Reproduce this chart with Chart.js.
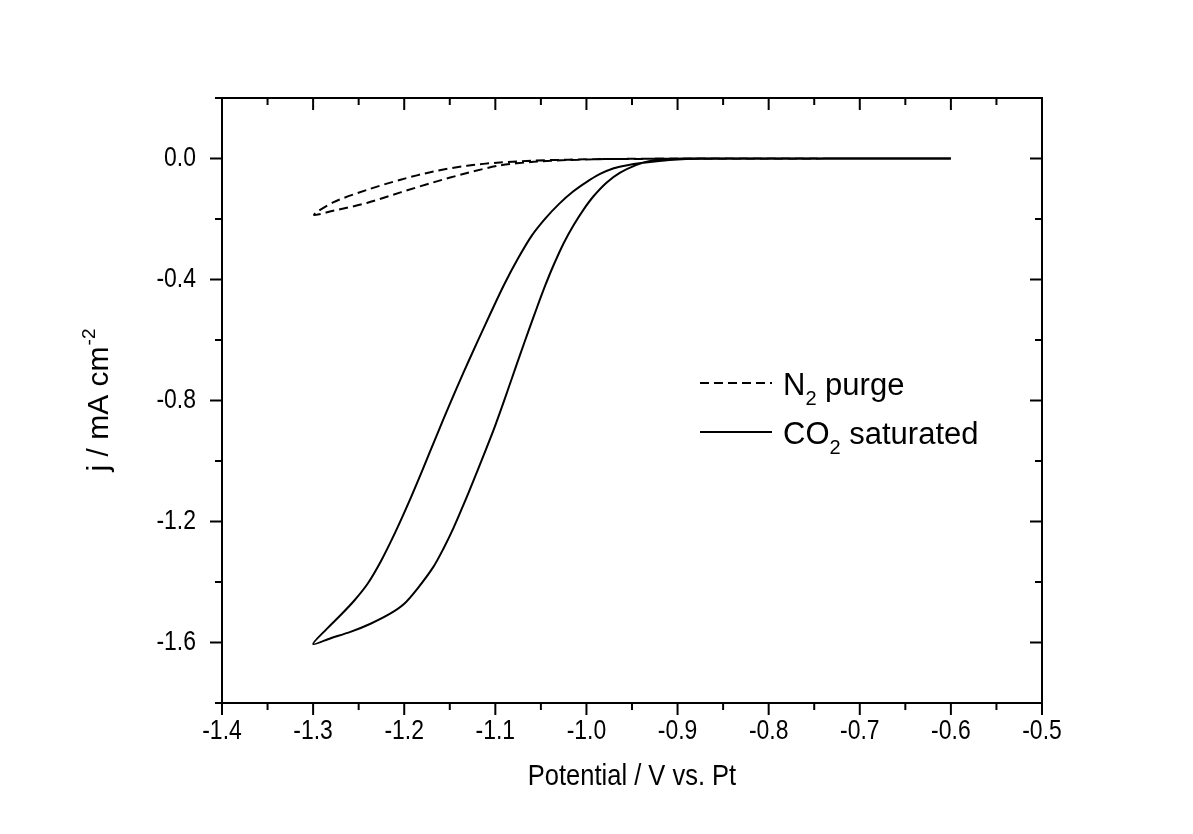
<!DOCTYPE html>
<html>
<head>
<meta charset="utf-8">
<script src="https://cdn.jsdelivr.net/npm/chart.js@4.4.1/dist/chart.umd.min.js"></script>
<style>
  html, body { margin: 0; padding: 0; background: #fff; }
  #wrap { width: 1193px; height: 834px; }
</style>
</head>
<body>
<div id="wrap"><canvas id="cv"></canvas></div>
<script>
// CO2 saturated CV: cathodic sweep from -0.6 V down to -1.3 V, then back
const co2Potential = [
  -0.600, -0.800, -0.880, -0.900, -0.920, -0.940, -0.955, -0.970, -0.985, -1.000,
  -1.015, -1.030, -1.045, -1.060, -1.075, -1.090, -1.105, -1.120, -1.135, -1.150,
  -1.165, -1.180, -1.195, -1.210, -1.225, -1.240, -1.255, -1.270, -1.285, -1.300,
  -1.280, -1.259, -1.237, -1.215, -1.200, -1.185, -1.168, -1.157, -1.146, -1.135,
  -1.124, -1.113, -1.102, -1.091, -1.082, -1.073, -1.063, -1.054, -1.045, -1.036,
  -1.025, -1.014, -1.003, -0.992, -0.978, -0.963, -0.945, -0.930, -0.910, -0.880,
  -0.600
];
const co2Current = [
  0.000, 0.000, -0.001, -0.003, -0.008, -0.015, -0.022, -0.032, -0.051, -0.078,
  -0.110, -0.150, -0.198, -0.255, -0.330, -0.415, -0.510, -0.608, -0.708, -0.812,
  -0.920, -1.030, -1.137, -1.237, -1.328, -1.405, -1.462, -1.510, -1.555, -1.605,
  -1.585, -1.565, -1.538, -1.504, -1.472, -1.420, -1.350, -1.290, -1.222, -1.145,
  -1.065, -0.982, -0.898, -0.806, -0.728, -0.650, -0.565, -0.490, -0.418, -0.352,
  -0.280, -0.220, -0.168, -0.124, -0.080, -0.047, -0.021, -0.008, -0.002, 0.000,
  0.000
];

// N2 purged CV
const n2Potential = [
  -0.600, -0.900, -0.985, -1.020, -1.058, -1.095, -1.131, -1.168, -1.204, -1.241, -1.278, -1.299,
  -1.278, -1.241, -1.204, -1.168, -1.131, -1.095, -1.058, -1.020, -0.980, -0.900, -0.600
];
const n2Current = [
  0.000, -0.001, -0.002, -0.004, -0.007, -0.013, -0.024, -0.043, -0.070, -0.104, -0.145, -0.186,
  -0.173, -0.147, -0.112, -0.079, -0.048, -0.023, -0.011, -0.005, -0.002, 0.000, 0.000
];

const xRange = [-1.4, -0.5];
const yRange = [-1.8, 0.2];
const xTicks = [-1.4, -1.3, -1.2, -1.1, -1.0, -0.9, -0.8, -0.7, -0.6, -0.5];
const xTickLabels = ['-1.4', '-1.3', '-1.2', '-1.1', '-1.0', '-0.9', '-0.8', '-0.7', '-0.6', '-0.5'];
const xMinorTicks = [-1.35, -1.25, -1.15, -1.05, -0.95, -0.85, -0.75, -0.65, -0.55];
const yTicks = [0.0, -0.4, -0.8, -1.2, -1.6];
const yTickLabels = ['0.0', '-0.4', '-0.8', '-1.2', '-1.6'];
const yMinorTicks = [0.2, -0.2, -0.6, -1.0, -1.4, -1.8];

const seriesNames = ['N2 purge', 'CO2 saturated'];
// label pieces: [main, subscript, rest]
const legendParts = [['N', '2', ' purge'], ['CO', '2', ' saturated']];
const xTitle = 'Potential / V vs. Pt';
const yTitleParts = ['j / mA cm', '-2'];

const sans = "'Liberation Sans', Arial, sans-serif";
const squeeze = 0.85; // the original's axis text is a condensed face

const toPoints = (xs, ys) => xs.map((v, i) => ({ x: v, y: ys[i] }));

const frame = {
    id: 'frame',
    afterDatasetsDraw(chart) {
        const { ctx, chartArea: a, scales: { x, y } } = chart;
        ctx.save();
        ctx.strokeStyle = '#000';
        ctx.fillStyle = '#000';
        ctx.lineWidth = 2;
        const seg = (x1, y1, x2, y2) => {
            ctx.beginPath();
            ctx.moveTo(x1, y1);
            ctx.lineTo(x2, y2);
            ctx.stroke();
        };
        const text = (t, px, py, size, align) => {
            ctx.save();
            ctx.translate(px, py);
            ctx.scale(squeeze, 1);
            ctx.font = size + 'px ' + sans;
            ctx.textAlign = align;
            ctx.textBaseline = 'middle';
            ctx.fillText(t, 0, 0);
            ctx.restore();
        };
        ctx.strokeRect(a.left, a.top, a.right - a.left, a.bottom - a.top);

        xTicks.forEach((v, i) => {
            const p = x.getPixelForValue(v);
            seg(p, a.bottom, p, a.bottom + 12);
            seg(p, a.top, p, a.top + 12);
            text(xTickLabels[i], p, a.bottom + 29, 27, 'center');
        });
        xMinorTicks.forEach(v => {
            const p = x.getPixelForValue(v);
            seg(p, a.bottom, p, a.bottom + 7);
            seg(p, a.top, p, a.top + 7);
        });
        yTicks.forEach((v, i) => {
            const p = y.getPixelForValue(v);
            seg(a.left - 12, p, a.left, p);
            seg(a.right - 12, p, a.right, p);
            text(yTickLabels[i], a.left - 26, p, 27, 'right');
        });
        yMinorTicks.forEach(v => {
            const p = y.getPixelForValue(v);
            seg(a.left - 7, p, a.left, p);
            seg(a.right - 7, p, a.right, p);
        });

        text(xTitle, (a.left + a.right) / 2, a.bottom + 74, 30, 'center');

        // y axis title with superscript, rotated
        ctx.translate(97, (a.top + a.bottom) / 2);
        ctx.rotate(-Math.PI / 2);
        ctx.font = '30px ' + sans;
        const w1 = ctx.measureText(yTitleParts[0]).width;
        ctx.font = '19px ' + sans;
        const w2 = ctx.measureText(yTitleParts[1]).width;
        const start = -(w1 + w2) / 2;
        ctx.textBaseline = 'alphabetic';
        ctx.textAlign = 'left';
        ctx.font = '30px ' + sans;
        ctx.fillText(yTitleParts[0], start, 11);
        ctx.font = '19px ' + sans;
        ctx.fillText(yTitleParts[1], start + w1 + 1, -2);
        ctx.restore();
    }
};

const legendBox = {
    id: 'legendBox',
    afterDraw(chart) {
        const { ctx } = chart;
        const rows = [383, 432];
        ctx.save();
        ctx.strokeStyle = '#000';
        ctx.fillStyle = '#000';
        ctx.lineWidth = 2;
        chart.data.datasets.forEach((ds, i) => {
            const yy = rows[i];
            ctx.setLineDash(ds.borderDash || []);
            ctx.beginPath();
            ctx.moveTo(700, yy);
            ctx.lineTo(772, yy);
            ctx.stroke();
            ctx.setLineDash([]);
            const [a, b, c] = legendParts[i];
            let tx = 783;
            ctx.textBaseline = 'alphabetic';
            ctx.font = '31px ' + sans;
            ctx.fillText(a, tx, yy + 12);
            tx += ctx.measureText(a).width;
            ctx.font = '20px ' + sans;
            ctx.fillText(b, tx, yy + 22);
            tx += ctx.measureText(b).width;
            ctx.font = '31px ' + sans;
            ctx.fillText(c, tx, yy + 12);
        });
        ctx.restore();
    }
};

const ctx = document.getElementById('cv').getContext('2d');
new Chart(ctx, {
    type: 'scatter',
    data: {
        datasets: [
            {
                label: seriesNames[0],
                data: toPoints(n2Potential, n2Current),
                showLine: true,
                borderColor: '#000',
                borderWidth: 2,
                borderDash: [9, 5],
                pointRadius: 0,
                tension: 0.3
            },
            {
                label: seriesNames[1],
                data: toPoints(co2Potential, co2Current),
                showLine: true,
                borderColor: '#000',
                borderWidth: 2,
                pointRadius: 0,
                tension: 0.3
            }
        ]
    },
    options: {
        responsive: true,
        maintainAspectRatio: false,
        animation: false,
        layout: { padding: { top: 98, right: 151, left: 0, bottom: 0 } },
        plugins: {
            legend: { display: false },
            tooltip: { enabled: false }
        },
        scales: {
            x: {
                type: 'linear',
                min: xRange[0],
                max: xRange[1],
                grid: { display: false },
                border: { display: false },
                ticks: { display: false },
                afterFit: s => { s.height = 131; }
            },
            y: {
                type: 'linear',
                min: yRange[0],
                max: yRange[1],
                grid: { display: false },
                border: { display: false },
                ticks: { display: false },
                afterFit: s => { s.width = 222; }
            }
        }
    },
    plugins: [frame, legendBox]
});
</script>
</body>
</html>
